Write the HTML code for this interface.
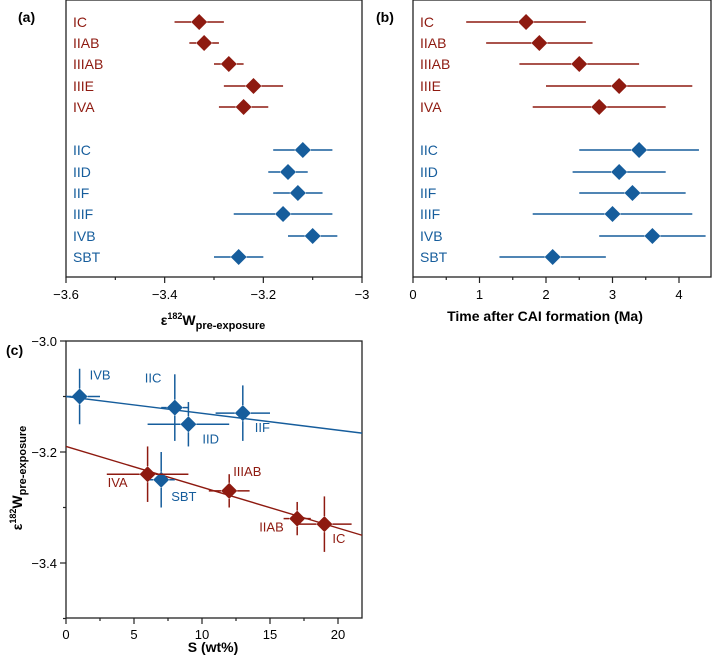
<!DOCTYPE html>
<html><head><meta charset="utf-8"><style>
body{margin:0;background:#fff;}
svg{display:block;font-family:"Liberation Sans",Arial,sans-serif;}
</style></head><body>
<svg id="fig" width="713" height="660"></svg>
<script>
const groups=["IC","IIAB","IIIAB","IIIE","IVA","IIC","IID","IIF","IIIF","IVB","SBT"];
const groupColor=["r","r","r","r","r","b","b","b","b","b","b"];
const rowY=[22,43,64,86,107,150,172,193,214,236,257];
const epsVal=[-3.33,-3.32,-3.27,-3.22,-3.24,-3.12,-3.15,-3.13,-3.16,-3.10,-3.25];
const epsLo=[-3.38,-3.35,-3.30,-3.28,-3.29,-3.18,-3.19,-3.18,-3.26,-3.15,-3.30];
const epsHi=[-3.28,-3.29,-3.24,-3.16,-3.19,-3.06,-3.11,-3.08,-3.06,-3.05,-3.20];
const ageVal=[1.7,1.9,2.5,3.1,2.8,3.4,3.1,3.3,3.0,3.6,2.1];
const ageLo=[0.8,1.1,1.6,2.0,1.8,2.5,2.4,2.5,1.8,2.8,1.3];
const ageHi=[2.6,2.7,3.4,4.2,3.8,4.3,3.8,4.1,4.2,4.4,2.9];
const aTicks=[-3.6,-3.4,-3.2,-3.0];
const aTickLabels=["\u22123.6","\u22123.4","\u22123.2","\u22123"];
const bTicks=[0,1,2,3,4];
// panel c
const cGroups=["IVB","IIC","IID","IIF","SBT","IVA","IIIAB","IIAB","IC"];
const cColor=["b","b","b","b","b","r","r","r","r"];
const cS=[1,8,9,13,7,6,12,17,19];
const cSLo=[0,7,6,11,6,3,10.5,16,17];
const cSHi=[2.5,9,12,15,8,9,13.5,18,21];
const cE=[-3.10,-3.12,-3.15,-3.13,-3.25,-3.24,-3.27,-3.32,-3.33];
const cELo=[-3.15,-3.18,-3.19,-3.18,-3.30,-3.29,-3.30,-3.35,-3.38];
const cEHi=[-3.05,-3.06,-3.11,-3.08,-3.20,-3.19,-3.24,-3.29,-3.28];
const cLabelDx=[10,-30,14,12,10,-40,4,-38,8];
const cLabelDy=[-22,-30,14,14,16,8,-20,8,14];
const fitBlue=[-3.10,-3.166];
const fitRed=[-3.19,-3.35];
const cXTicks=[0,5,10,15,20];
const cYTicks=[-3.0,-3.2,-3.4];

const NS="http://www.w3.org/2000/svg";
const svg=document.getElementById("fig");
const COL={r:"#8e1a10",b:"#165d9c"};
function mk(tag,attrs,parent,text){const e=document.createElementNS(NS,tag);for(const k in attrs)e.setAttribute(k,attrs[k]);if(text!==undefined)e.textContent=text;(parent||svg).appendChild(e);return e;}

const ax=v=>66+(v+3.6)/0.6*296;
const bx=v=>413+v*66.5;
const cx=v=>66+v*13.6;
const cy=v=>341+(-3.0-v)*555;
const GAP=8;

function frame(x,y,w,h,name){const r=mk("rect",{x:x,y:y,width:w,height:h,fill:"none",stroke:"#222","stroke-width":1.3});}
function diamond(x,y,c,name){const p=mk("polygon",{points:`${x},${y-8} ${x+8},${y} ${x},${y+8} ${x-8},${y}`,fill:c});}
function hbar(x1,x2,xm,y,c,name){
  const g=mk("g",{stroke:c,"stroke-width":1.5});
  if(xm-GAP>x1)mk("line",{x1:x1,y1:y,x2:xm-GAP,y2:y},g);
  if(xm+GAP<x2)mk("line",{x1:xm+GAP,y1:y,x2:x2,y2:y},g);
}
function vbar(y1,y2,ym,x,c,name){
  const g=mk("g",{stroke:c,"stroke-width":1.5});
  if(ym-GAP>y1)mk("line",{x1:x,y1:y1,x2:x,y2:ym-GAP},g);
  if(ym+GAP<y2)mk("line",{x1:x,y1:ym+GAP,x2:x,y2:y2},g);
}
function txt(x,y,s,attrs,name,inter){const t=mk("text",Object.assign({x:x,y:y},attrs),svg,s);return t;}

// Panel a
frame(66,0,296,277,"panel-a-frame");
txt(18,22,"(a)",{"font-size":14,"font-weight":"bold"},"panel-a-label");
aTicks.forEach((t,i)=>{mk("line",{x1:ax(t),y1:277,x2:ax(t),y2:283,stroke:"#222","stroke-width":1.2});
 txt(ax(t),299,aTickLabels[i],{"font-size":13,"text-anchor":"middle"},"x-tick-a");});
[-3.5,-3.3,-3.1].forEach(t=>mk("line",{x1:ax(t),y1:277,x2:ax(t),y2:280,stroke:"#222","stroke-width":1.2}));
const at=txt(213,325,"",{"font-size":14,"font-weight":"bold","text-anchor":"middle"},"x-axis-title-a");
at.innerHTML='ε<tspan dy="-6" font-size="9">182</tspan><tspan dy="6">W</tspan><tspan dy="4" font-size="11">pre-exposure</tspan>';
groups.forEach((g,i)=>{const c=COL[groupColor[i]];const y=rowY[i];
 txt(73,y+5,g,{"font-size":14,fill:c},"row-label-a");
 hbar(ax(epsLo[i]),ax(epsHi[i]),ax(epsVal[i]),y,c,"errorbar-a");
 diamond(ax(epsVal[i]),y,c,"point-a-"+g.toLowerCase());});

// Panel b
frame(413,0,298,277,"panel-b-frame");
txt(376,22,"(b)",{"font-size":14,"font-weight":"bold"},"panel-b-label");
bTicks.forEach(t=>{mk("line",{x1:bx(t),y1:277,x2:bx(t),y2:283,stroke:"#222","stroke-width":1.2});
 txt(bx(t),299,String(t),{"font-size":13,"text-anchor":"middle"},"x-tick-b");});
[0.5,1.5,2.5,3.5].forEach(t=>mk("line",{x1:bx(t),y1:277,x2:bx(t),y2:280,stroke:"#222","stroke-width":1.2}));
txt(545,321,"Time after CAI formation (Ma)",{"font-size":14,"font-weight":"bold","text-anchor":"middle"},"x-axis-title-b");
groups.forEach((g,i)=>{const c=COL[groupColor[i]];const y=rowY[i];
 txt(420,y+5,g,{"font-size":14,fill:c},"row-label-b");
 hbar(bx(ageLo[i]),bx(ageHi[i]),bx(ageVal[i]),y,c,"errorbar-b");
 diamond(bx(ageVal[i]),y,c,"point-b-"+g.toLowerCase());});

// Panel c
frame(66,341,296,277,"panel-c-frame");
txt(6,355,"(c)",{"font-size":14,"font-weight":"bold"},"panel-c-label");
cXTicks.forEach(t=>{mk("line",{x1:cx(t),y1:618,x2:cx(t),y2:624,stroke:"#222","stroke-width":1.2});
 txt(cx(t),639,String(t),{"font-size":13,"text-anchor":"middle"},"x-tick-c");});
[2.5,7.5,12.5,17.5].forEach(t=>mk("line",{x1:cx(t),y1:618,x2:cx(t),y2:621,stroke:"#222","stroke-width":1.2}));
cYTicks.forEach(t=>{mk("line",{x1:60,y1:cy(t),x2:66,y2:cy(t),stroke:"#222","stroke-width":1.2});
 txt(57,cy(t)+5,"\u2212"+Math.abs(t).toFixed(1),{"font-size":13,"text-anchor":"end"},"y-tick-c");});
[-3.1,-3.3,-3.5].forEach(t=>mk("line",{x1:63,y1:cy(t),x2:66,y2:cy(t),stroke:"#222","stroke-width":1.2}));
txt(213,652,"S (wt%)",{"font-size":14,"font-weight":"bold","text-anchor":"middle"},"x-axis-title-c");
const yt=txt(0,0,"",{"font-size":14,"font-weight":"bold","text-anchor":"middle",transform:"translate(22,478) rotate(-90)"},"y-axis-title-c");
yt.innerHTML='ε<tspan dy="-6" font-size="9">182</tspan><tspan dy="6">W</tspan><tspan dy="4" font-size="11">pre-exposure</tspan>';
const xmax=(362-66)/13.6;
const lb=mk("line",{x1:cx(0),y1:cy(fitBlue[0]),x2:cx(xmax),y2:cy(fitBlue[1]),stroke:COL.b,"stroke-width":1.4});

const lr=mk("line",{x1:cx(0),y1:cy(fitRed[0]),x2:cx(xmax),y2:cy(fitRed[1]),stroke:COL.r,"stroke-width":1.4});

cGroups.forEach((g,i)=>{const c=COL[cColor[i]];const X=cx(cS[i]),Y=cy(cE[i]);
 hbar(cx(cSLo[i]),cx(cSHi[i]),X,Y,c,"x-errorbar-c");
 vbar(cy(cEHi[i]),cy(cELo[i]),Y,X,c,"y-errorbar-c");
 diamond(X,Y,c,"point-c-"+g.toLowerCase());
 txt(X+cLabelDx[i],Y+cLabelDy[i]+5,g,{"font-size":13,fill:c},"point-label-c");});
</script>
</body></html>
